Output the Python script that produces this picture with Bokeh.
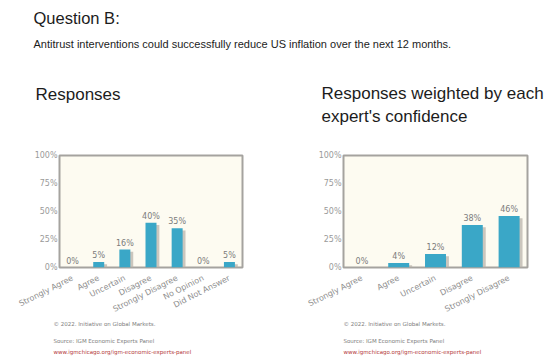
from bokeh.plotting import figure
from bokeh.layouts import column, row
from bokeh.models import Label, FixedTicker, Range1d, FactorRange, ColumnDataSource
from bokeh.transform import dodge
from bokeh.core.properties import value
from bokeh.embed import file_html
from bokeh.resources import INLINE

# ---- content -------------------------------------------------------------
question_title = "Question B:"
question_text = ("Antitrust interventions could successfully reduce US inflation "
                 "over the next 12 months.")

resp_title = "Responses"
resp_categories = ["Strongly Agree", "Agree", "Uncertain", "Disagree",
                   "Strongly Disagree", "No Opinion", "Did Not Answer"]
resp_values = [0, 5, 16, 40, 35, 0, 5]

weighted_title = ["Responses weighted by each", "expert's confidence"]
weighted_categories = ["Strongly Agree", "Agree", "Uncertain", "Disagree",
                       "Strongly Disagree"]
weighted_values = [0, 4, 12, 38, 46]

y_ticks = [0, 25, 50, 75, 100]
y_tick_labels = ["0%", "25%", "50%", "75%", "100%"]

footer_lines = ["\u00a9 2022. Initiative on Global Markets.",
                "Source: IGM Economic Experts Panel",
                "www.igmchicago.org/igm-economic-experts-panel"]

# ---- styling -------------------------------------------------------------
HEAD_FONT = "Liberation Sans"
AXIS_FONT = "DejaVu Sans"
BAR_COLOR = "#3aa7c7"
SHADOW_COLOR = "#b9b4ab"
PANEL_BG = "#fdfbf1"
FRAME_COLOR = "#a5a39f"
TEXT_DARK = "#1c1c1c"
AXIS_TEXT = "#9a9a9a"

HEAD_H = 130
CHART_H = 190
FOOT_H = 38
FRAME_TOP = 25
FRAME_H = 114
FOOTER_COLORS = ["#7d7d7d", "#7d7d7d", "#b43a3a"]


def bare_canvas(w, h):
    p = figure(width=w, height=h, x_range=Range1d(0, w), y_range=Range1d(h, 0),
               x_axis_type=None, y_axis_type=None, min_border=0,
               output_backend="svg", toolbar_location=None)
    p.outline_line_color = None
    p.grid.visible = False
    p.background_fill_color = "white"
    p.border_fill_color = "white"
    return p


def bar_panel(categories, values, border_left, frame_w, border_right,
              bar_w, shadow_dx):
    src = ColumnDataSource(dict(
        cat=categories,
        val=values,
        shadow=[max(v - 2, 0) for v in values],
        lab=[f"{v}%" for v in values],
    ))
    p = figure(x_range=FactorRange(*categories, range_padding=0),
               y_range=Range1d(0, 100),
               width=border_left + frame_w + border_right, height=CHART_H,
               min_border_left=border_left, min_border_right=border_right,
               min_border_top=FRAME_TOP,
               min_border_bottom=CHART_H - FRAME_TOP - FRAME_H,
               output_backend="svg", toolbar_location=None)
    p.background_fill_color = PANEL_BG
    p.border_fill_color = "white"
    p.outline_line_color = FRAME_COLOR
    p.outline_line_width = 2
    p.grid.visible = False

    # drop shadow behind each bar
    p.vbar(x=dodge("cat", shadow_dx, range=p.x_range), top="shadow", width=bar_w,
           source=src, fill_color=SHADOW_COLOR, fill_alpha=0.75, line_color=None)
    p.vbar(x="cat", top="val", width=bar_w, source=src,
           fill_color=BAR_COLOR, line_color=None)
    p.text(x="cat", y="val", text="lab", source=src, text_align="center",
           text_baseline="bottom", y_offset=-2, text_font=value(AXIS_FONT),
           text_font_size="8px", text_color="#7c7c7c")

    for ax in (p.xaxis[0], p.yaxis[0]):
        ax.axis_line_color = None
        ax.major_tick_line_color = None
        ax.minor_tick_line_color = None
        ax.major_tick_out = 0
        ax.major_tick_in = 0
        ax.minor_tick_out = 0
        ax.minor_tick_in = 0
        ax.major_label_text_font = AXIS_FONT
        ax.major_label_text_font_size = "8px"

    ya = p.yaxis[0]
    ya.ticker = FixedTicker(ticks=y_ticks)
    ya.major_label_overrides = {t: s for t, s in zip(y_ticks, y_tick_labels)}
    ya.major_label_standoff = 2
    ya.major_label_text_color = AXIS_TEXT

    xa = p.xaxis[0]
    xa.major_label_orientation = 0.47
    xa.major_label_standoff = 10
    xa.major_label_text_color = "#8e8e8e"
    return p


# ---- header: question and panel titles -----------------------------------
head = bare_canvas(550, HEAD_H)
head.add_layout(Label(x=33, y=17, text=question_title, text_font=HEAD_FONT,
                      text_font_size="16.5px", text_color=TEXT_DARK,
                      text_baseline="alphabetic"))
head.add_layout(Label(x=33, y=43, text=question_text, text_font=HEAD_FONT,
                      text_font_size="11px", text_color=TEXT_DARK,
                      text_baseline="alphabetic"))
head.add_layout(Label(x=35, y=94, text=resp_title, text_font=HEAD_FONT,
                      text_font_size="17px", text_color=TEXT_DARK,
                      text_baseline="alphabetic"))
for i, line in enumerate(weighted_title):
    head.add_layout(Label(x=321, y=93 + 23 * i, text=line, text_font=HEAD_FONT,
                          text_font_size="17px", text_color=TEXT_DARK,
                          text_baseline="alphabetic"))

# ---- the two bar panels ---------------------------------------------------
left = bar_panel(resp_categories, resp_values, 59, 183, 33,
                 bar_w=0.42, shadow_dx=0.11)
right = bar_panel(weighted_categories, weighted_values, 68, 184, 23,
                  bar_w=0.57, shadow_dx=0.08)

# ---- credits under each panel ---------------------------------------------
foot = bare_canvas(550, FOOT_H)
for x0 in (53, 343):
    for line, y, c in zip(footer_lines, (3, 20, 31), FOOTER_COLORS):
        foot.add_layout(Label(x=x0, y=y, text=line, text_font=AXIS_FONT,
                              text_font_size="5.5px", text_color=c,
                              text_baseline="middle"))

page = column(head, row(left, right, spacing=0), foot, spacing=0)

with open("out.html", "w") as f:
    f.write(file_html(page, INLINE))
